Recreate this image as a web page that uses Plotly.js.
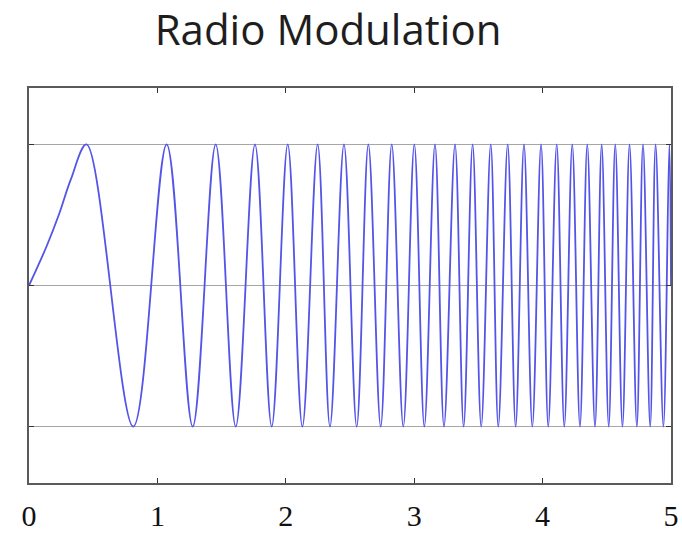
<!DOCTYPE html>
<html>
<head>
<meta charset="utf-8">
<script src="https://cdn.plot.ly/plotly-3.0.1.min.js"></script>
<style>
  html, body { margin: 0; padding: 0; background: #ffffff; }
  #chart { width: 682px; height: 534px; }
</style>
</head>
<body>
<div id="chart"></div>
<script>
// ---- Data ----
const chartTitle = "Radio Modulation";
const xTickValues = [0, 1, 2, 3, 4, 5];
const xTickLabels = ["0", "1", "2", "3", "4", "5"];
const yTickValues = [-1, 0, 1];

// initial rise of the signal from the origin
const riseTimes  = [0, 0.138, 0.236, 0.325];
const riseValues = [0, 0.28, 0.51, 0.75];

// times of the crests (value +1) and troughs (value -1)
const peakLevel = 1;
const troughLevel = -1;
const peakTimes = [0.448, 1.072, 1.454, 1.760, 2.015, 2.248, 2.453, 2.643, 2.825,
                   3.001, 3.162, 3.318, 3.455, 3.596, 3.728, 3.855, 3.988, 4.110,
                   4.231, 4.348, 4.460, 4.566, 4.677, 4.782, 4.880, 4.987];
const troughTimes = [0.812, 1.275, 1.610, 1.890, 2.129, 2.344, 2.552, 2.739, 2.915,
                     3.079, 3.232, 3.385, 3.522, 3.655, 3.790, 3.920, 4.044, 4.169,
                     4.291, 4.408, 4.515, 4.622, 4.734, 4.838, 4.941];

// where the curve leaves the plot at the right edge
const endTime = 5;
const endValue = 0;

// ---- Assemble the trace from the read values ----
const xs = riseTimes.slice();
const ys = riseValues.slice();
for (let i = 0; i < peakTimes.length; i++) {
  xs.push(peakTimes[i]); ys.push(peakLevel);
  if (i < troughTimes.length) { xs.push(troughTimes[i]); ys.push(troughLevel); }
}
xs.push(endTime); ys.push(endValue);

const trace = {
  x: xs, y: ys,
  type: "scatter", mode: "lines",
  line: { color: "rgb(84,84,232)", width: 1.8, shape: "spline", smoothing: 1 },
  hoverinfo: "skip",
  cliponaxis: true
};

const layout = {
  width: 682, height: 534,
  margin: { l: 29, r: 11, t: 88, b: 51, pad: 0 },
  paper_bgcolor: "#ffffff",
  plot_bgcolor: "#ffffff",
  showlegend: false,
  title: {
    text: chartTitle,
    font: { family: "Open Sans, Noto Sans, sans-serif", size: 42, color: "#1e1e1e" },
    xref: "container", yref: "container",
    x: 0.481, xanchor: "center",
    y: 0.944, yanchor: "middle"
  },
  xaxis: {
    range: [0, 5],
    tickmode: "array", tickvals: xTickValues, ticktext: xTickLabels,
    ticks: "inside", ticklen: 5, tickwidth: 1.2, tickcolor: "#333333",
    showline: true, linecolor: "#5a5a5a", linewidth: 1.6, mirror: "ticks",
    showgrid: false, zeroline: false,
    tickfont: { family: "Liberation Serif, DejaVu Serif, serif", size: 30, color: "#111111" },
    ticklabelstandoff: 5,
    fixedrange: true
  },
  yaxis: {
    range: [-1.4, 1.4],
    tickmode: "array", tickvals: yTickValues,
    ticks: "inside", ticklen: 5, tickwidth: 1.2, tickcolor: "#333333",
    showline: true, linecolor: "#5a5a5a", linewidth: 1.6, mirror: "ticks",
    showgrid: true, gridcolor: "#a6a6a6", gridwidth: 1,
    zeroline: false,
    showticklabels: false,
    fixedrange: true
  }
};

Plotly.newPlot("chart", [trace], layout, { displayModeBar: false, staticPlot: true });
</script>
</body>
</html>
